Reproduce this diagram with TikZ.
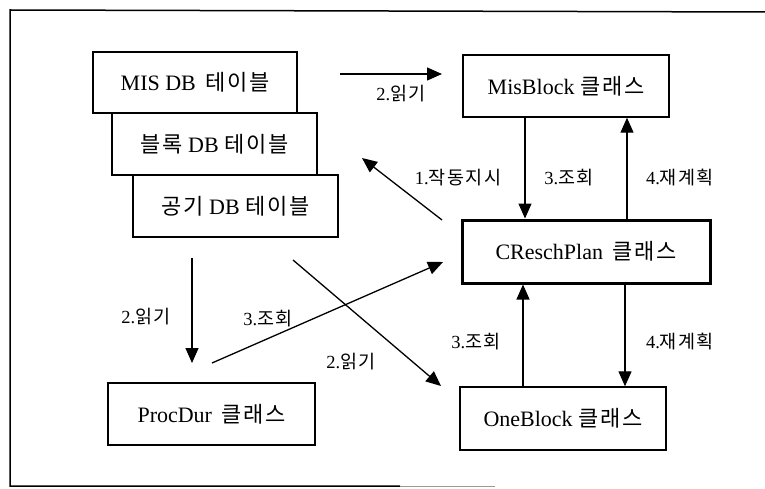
\documentclass[tikz,border=0pt]{standalone}
\usepackage{fontspec}
\setmainfont{Liberation Serif}
\newfontfamily\krfont{Noto Sans CJK KR}
\newcommand\K[1]{{\krfont\addfontfeatures{LetterSpace=8} #1}}
\usetikzlibrary{arrows.meta}
\begin{document}
\begin{tikzpicture}[x=1pt,y=-1pt,
  box/.style={draw, line width=1.4pt, fill=white, inner sep=0pt, font=\fontsize{22}{26}\selectfont},
  thickbox/.style={box, line width=3pt},
  arr/.style={line width=1.3pt, -{Triangle[length=15pt,width=13pt]}},
  lbl/.style={font=\fontsize{18.5}{22}\selectfont, inner sep=0pt}]
\useasboundingbox (0,0) rectangle (765,489);
% frame
\draw[line width=1.5pt] (765,12) -- (10,10) -- (10,486) -- (400,486);
\draw[line width=1pt, black!40] (400,486) -- (495,486);
% nodes
\node[box, minimum width=204pt, minimum height=61pt] (mis) at (195,82.5) {MIS DB\, \K{테이블}\hspace{12pt}};
\node[box, minimum width=205pt, minimum height=62pt] (blk) at (214.5,144) {\K{블록} DB \K{테이블}};
\node[box, minimum width=205pt, minimum height=62pt] (gong) at (235.5,206) {\K{공기} DB \K{테이블}};
\node[box, minimum width=206pt, minimum height=62pt] (misb) at (566,86) {MisBlock \K{클래스}};
\node[thickbox, minimum width=248pt, minimum height=63pt] (cr) at (586,251.5) {CReschPlan\, \K{클래스}};
\node[box, minimum width=206pt, minimum height=63pt] (one) at (563,418.5) {OneBlock \K{클래스}};
\node[box, minimum width=207pt, minimum height=62pt] (proc) at (211.5,414) {ProcDur\, \K{클래스}};
% free-end coordinates
\coordinate (r1s) at (340,74);
\coordinate (r1e) at (442,74);
\coordinate (a1s) at (442,220);
\coordinate (a1e) at (362,158);
\coordinate (r2s) at (192,258);
\coordinate (r2e) at (192,363);
\coordinate (q1s) at (212,363);
\coordinate (q1e) at (443,262);
\coordinate (r3s) at (293,260);
\coordinate (r3e) at (441,386);
% connectors
\draw[arr] (r1s) -- (r1e);
\draw[arr] ([xshift=-41pt]misb.south) -- ([xshift=-61pt]cr.north);
\draw[arr] ([xshift=41pt]cr.north) -- ([xshift=61pt]misb.south);
\draw[arr] (a1s) -- (a1e);
\draw[arr] (r2s) -- (r2e);
\draw[arr] (q1s) -- (q1e);
\draw[arr] (r3s) -- (r3e);
\draw[arr] ([xshift=-40pt]one.north) -- ([xshift=-63pt]cr.south);
\draw[arr] ([xshift=39pt]cr.south) -- ([xshift=62pt]one.north);
% labels
\node[lbl] (l1) at (401,94) {2.\K{읽기}};
\node[lbl] (l2) at (458,178) {1.\K{작동지시}};
\node[lbl] (l3) at (569,178) {3.\K{조회}};
\node[lbl] (l4) at (680,178) {4.\K{재계획}};
\node[lbl] (l5) at (146,317) {2.\K{읽기}};
\node[lbl] (l6) at (268,319) {3.\K{조회}};
\node[lbl] (l7) at (351,362) {2.\K{읽기}};
\node[lbl] (l8) at (476,342) {3.\K{조회}};
\node[lbl] (l9) at (680,342) {4.\K{재계획}};
\end{tikzpicture}
\end{document}
